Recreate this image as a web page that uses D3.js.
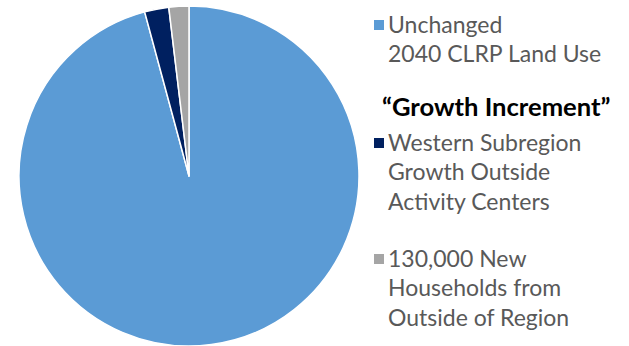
<!doctype html>
<html>
<head>
  <meta charset="utf8"/>
  <style>
    body { margin: 0; background: #fff; }
    svg { display: block; }
  </style>
</head>
<body>
  <svg width="629" height="346"></svg>
  <script src="https://d3js.org/d3.v7.min.js"></script>
  <script>
    // slice shares (percent)
    var categories = ['unchanged', 'western', 'newHouseholds'];
    var shares = [95.8, 2.3, 1.9];
    var colors = ['#5b9bd5', '#002060', '#a5a5a5'];

    // legend text, one array of lines per entry
    var legendLines = [
      ['Unchanged', '2040 CLRP Land Use'],
      ['Western Subregion', 'Growth Outside', 'Activity Centers'],
      ['130,000 New', 'Households from', 'Outside of Region']
    ];
    var groupTitle = '\u201cGrowth Increment\u201d';

    var svg = d3.select('svg'),
        cx = 189, cy = 176, r = 170;

    var pie = d3.pie().sort(null).value(function(d) { return d; });
    var arc = d3.arc().innerRadius(0).outerRadius(r);

    var g = svg.append('g').attr('transform', 'translate(' + cx + ',' + cy + ')');
    g.selectAll('path')
      .data(pie(shares))
      .enter().append('path')
        .attr('d', arc)
        .attr('fill', function(d, i) { return colors[i]; })
        .attr('stroke', '#fff')
        .attr('stroke-width', 1.5)
        .attr('stroke-linejoin', 'round');

    // legend
    var lx = 374, tx = 388, lineH = 29.3;
    var font = 'Lato, "Open Sans", sans-serif';
    var entryTop = [25, 143, 259];   // centre of first line of each entry
    var leg = svg.append('g');

    legendLines.forEach(function(lines, i) {
      leg.append('rect')
        .attr('x', lx).attr('y', entryTop[i] - 5)
        .attr('width', 10).attr('height', 10)
        .attr('fill', colors[i]);
      lines.forEach(function(t, j) {
        leg.append('text')
          .attr('x', tx)
          .attr('y', entryTop[i] + j * lineH)
          .attr('dy', '0.35em')
          .attr('font-family', font)
          .attr('font-size', 23)
          .attr('fill', '#595959')
          .text(t);
      });
    });

    leg.append('text')
      .attr('x', 382)
      .attr('y', 107)
      .attr('dy', '0.35em')
      .attr('font-family', font)
      .attr('font-size', 25.6)
      .attr('font-weight', 'bold')
      .attr('fill', '#000')
      .text(groupTitle);
  </script>
</body>
</html>
